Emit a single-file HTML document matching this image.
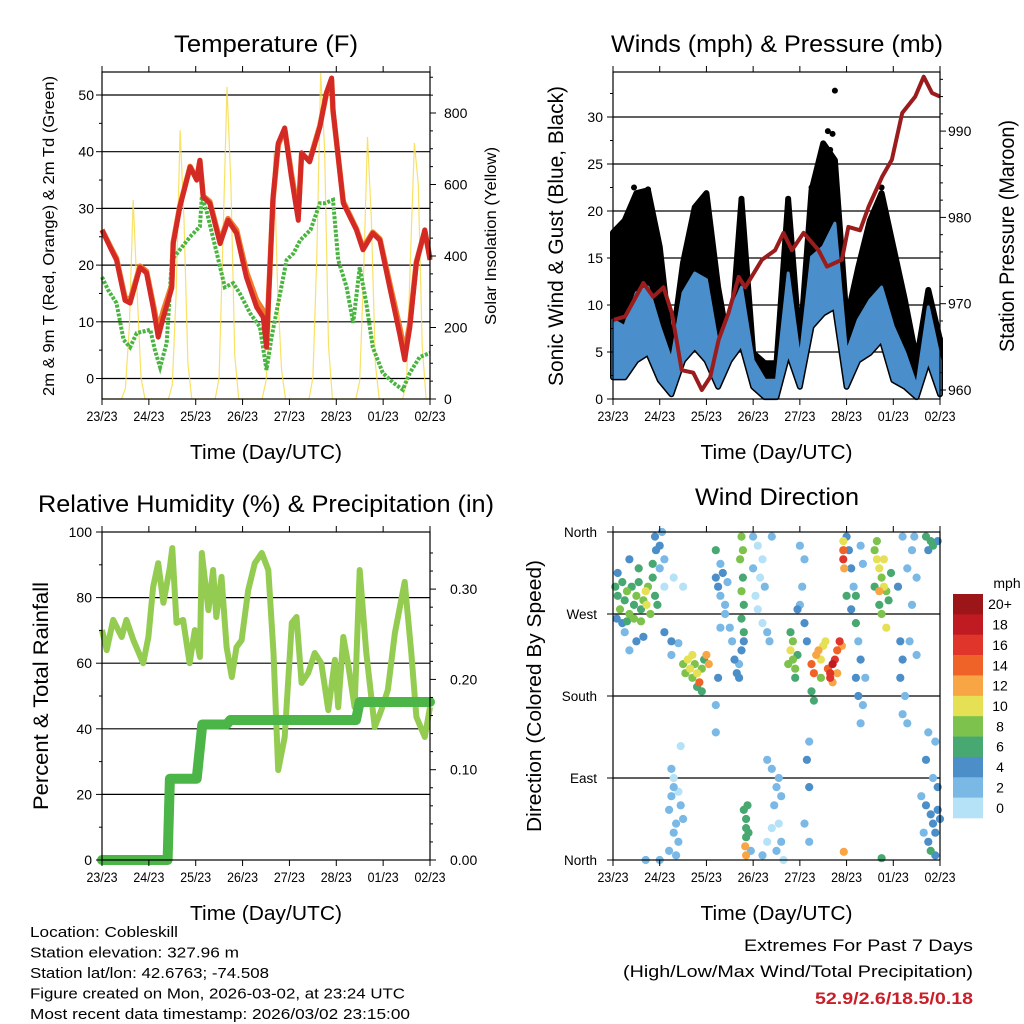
<!DOCTYPE html>
<html><head><meta charset="utf-8"><style>
html,body{margin:0;padding:0;background:#fff;}
svg{display:block;font-family:"Liberation Sans",sans-serif;}
</style></head><body>
<svg id="c" width="1024" height="1024" viewBox="0 0 1024 1024" xmlns="http://www.w3.org/2000/svg">
<rect width="1024" height="1024" fill="#fff"/>
<g id="g"></g>
</svg>
<script>
// ---- Temperature panel data (time in days from 23/23) ----
const tTime=[0,0.17,0.31,0.49,0.6,0.81,0.95,1.09,1.2,1.31,1.49,1.52,1.66,1.88,2.02,2.09,2.16,2.3,2.52,2.69,2.87,3.08,3.3,3.44,3.51,3.65,3.76,3.9,4.04,4.19,4.26,4.43,4.65,4.79,4.9,4.93,5.15,5.43,5.57,5.78,5.93,6.14,6.35,6.46,6.57,6.71,6.89,7.0];
const tRed=[26.2,23.2,20.9,13.8,13.3,19.6,18.6,12.6,7.3,10.8,16,23.8,30.2,37.3,35,38.5,32,30.9,23.8,27.9,25.6,17.9,12.6,10.8,5.5,31.9,41.5,44.2,35.6,27.9,39.8,38.2,44.4,50.4,53,47.4,30.9,26.2,22.7,25.6,24.4,16.1,8,3.3,9.1,20.4,26.2,20.9];
const tOrange=[26.2,23.4,21.2,14.3,13.8,19.8,18.9,13.2,8.6,12,16.5,24,30.4,37.4,35.2,38.4,32.2,31.2,24.2,28.2,26.2,18.9,13.8,12,6.5,31.5,41.2,44,36.2,29,39.6,38.4,44.6,50.2,52.6,47.2,31.2,26.4,23,25.8,24.6,16.8,9.2,4.6,9.8,20.6,26,21.2];
const tdTime=[0,0.13,0.31,0.46,0.6,0.74,1.03,1.13,1.24,1.38,1.49,1.66,1.88,2.09,2.13,2.23,2.45,2.62,2.8,2.94,3.16,3.37,3.51,3.62,3.8,3.94,4.09,4.23,4.45,4.65,4.75,4.93,5.04,5.22,5.36,5.5,5.64,5.78,5.99,6.21,6.42,6.57,6.78,7.0];
const tdVal=[17.9,15.6,13.3,6.8,5.5,8,8.6,5,2,6.3,20.9,22.7,25,26.8,32,29.6,22.1,16.1,16.8,15,11.5,9.1,1.5,7.3,15,20.9,22.1,24.4,26.2,30.9,30.9,31.5,20.9,16.1,9.8,19.6,13.3,5.5,1,-0.7,-2,1,3.8,4.5];
const solarVal=[0,0,0,0,0,0,30,200,557,300,60,0,
 0,0,0,0,0,0,40,300,752,500,100,0,
 0,0,0,0,0,0,60,450,873,600,120,0,
 0,0,0,0,0,0,50,200,688,300,80,0,
 0,0,0,0,0,0,60,400,912,700,150,0,
 0,0,0,0,0,0,50,350,733,500,100,0,
 0,0,0,0,0,0,50,400,716,600,150,0,0];
const dayLabels=["23/23","24/23","25/23","26/23","27/23","28/23","01/23","02/23"];
// ---- Winds panel data ----
const wTime=[0,0.25,0.5,0.75,1,1.25,1.5,1.75,2,2.25,2.5,2.75,3,3.25,3.5,3.75,4,4.25,4.5,4.75,5,5.25,5.5,5.75,6,6.25,6.5,6.75,7];
const gustHi=[17.7,19,21.9,22.2,16.2,5.2,14.5,20.4,21.9,11.9,4.9,21.2,4.9,3.8,3.8,21.2,5.5,22.2,27.2,25.4,8.4,14,19,21.9,16.2,10.5,4.1,11.6,6.3];
const windHi=[8.4,7.7,11.3,11.9,7.7,4.1,11.3,13.4,12.7,5.5,9.1,11.9,4.1,2,2,13.4,4.1,15.1,16.2,18.7,4.9,8.4,10.5,11.9,7.7,4.9,1.3,9.8,4.1];
const windLo=[2.3,2.3,4.1,4.9,2,0.5,4.1,5.5,4.1,1.3,4.1,5.8,1.3,0.2,0.2,4.9,1.3,7.7,9.1,9.8,1.3,4.1,4.9,6.3,2,1.3,0.2,4.1,0.5];
const gustOutTime=[4.75,4.6,4.7,4.65,0.45,0.75,2.75,3.75,4.25,5.75,1.95];
const gustOutVal=[32.8,28.5,28.2,26.5,22.5,22.3,21.3,21.3,22.5,22.5,21.5];
const pTime=[0,0.26,0.65,0.86,1.08,1.26,1.47,1.72,1.9,2.08,2.26,2.47,2.69,2.83,3.19,3.47,3.65,3.83,4.08,4.4,4.58,4.9,5.04,5.29,5.47,5.76,5.97,6.19,6.47,6.65,6.83,7.0];
const pVal=[968.1,968.5,972.4,970.8,971.9,968.9,962.3,962,960,961.5,965.8,968.9,973.1,971.9,975.1,976.2,978.2,976.2,978.2,976.2,974.3,975.1,978.9,978.5,981.2,984.7,986.7,992.1,994,996.3,994.4,994];
// ---- RH / precip data ----
const rhTime=[0,0.1,0.24,0.42,0.52,0.67,0.88,0.99,1.09,1.2,1.31,1.45,1.5,1.59,1.73,1.87,1.98,2.09,2.13,2.27,2.37,2.44,2.55,2.66,2.77,2.87,2.98,3.12,3.26,3.41,3.55,3.66,3.76,3.9,4.05,4.15,4.26,4.4,4.54,4.68,4.83,4.97,5.04,5.15,5.25,5.39,5.5,5.64,5.82,5.96,6.1,6.25,6.46,6.6,6.71,6.89,7.0];
const rhVal=[70.1,64,73.2,68,73.2,67,60,68,83.2,90.5,78.4,89.3,95.1,72.3,73.2,60,70.1,61.9,93.6,76.2,88.4,74.1,86.3,64.9,55.8,64.9,67,82.3,90.5,93.6,88.4,63.1,27.4,37.5,72.3,74.1,54,57,63.1,60,45.7,61,46.6,68,60,46.6,88.4,63.1,40.5,45.7,51.8,69.2,84.8,63.1,43.6,37.5,46.6];
const prTime=[0,1.4,1.45,2.02,2.14,2.66,2.74,5.42,5.5,7.0];
const prVal=[0,0,0.09,0.09,0.15,0.15,0.155,0.155,0.175,0.175];
// ---- Wind direction data ----
const dirTime=[0.05,0.1,0.15,0.2,0.25,0.3,0.35,0.4,0.45,0.5,0.55,0.6,0.65,0.7,0.72,0.75,0.8,0.85,0.9,0.95,0.08,0.2,0.3,0.45,0.6,0.85,0.92,0.1,0.35,0.55,0.25,0.5,0.35,0.65,
0.9,1.0,1.05,1.1,1.0,1.3,1.5,1.1,
1.5,1.55,1.6,1.65,1.7,1.75,1.8,1.85,1.9,1.95,2.0,2.05,1.7,1.8,1.9,
1.2,1.25,1.3,1.35,1.4,1.45,1.3,1.2,1.35,1.4,1.5,1.25,1.3,1.45,1.25,1.1,1.25,1.4,
2.2,2.25,2.3,2.35,2.4,2.3,2.2,2.45,2.4,2.5,2.55,2.6,2.65,2.3,2.25,2.2,2.2,
2.75,2.78,2.72,2.78,2.75,2.8,2.75,2.8,2.8,2.75,2.7,2.7,
2.85,2.85,2.85,2.83,2.85,2.9,2.8,2.95,2.88,
3.0,3.1,3.2,3.15,3.05,3.1,3.2,3.3,3.4,3.0,3.25,3.35,
3.3,3.4,3.5,3.45,3.55,3.6,3.4,3.3,3.5,3.6,3.55,3.2,3.65,
3.8,3.85,3.8,3.85,3.9,3.95,3.9,3.75,
4.0,4.1,4.05,4.0,4.1,4.15,3.95,4.2,4.15,4.2,4.1,4.2,
4.25,4.3,4.35,4.4,4.45,4.5,4.55,4.45,4.25,4.3,4.6,4.65,4.7,4.75,4.8,4.85,4.8,4.7,4.65,4.9,
4.93,4.93,4.95,4.93,
5.0,5.05,5.1,5.15,5.2,5.0,5.1,5.2,5.3,5.35,5.25,5.3,5.2,5.25,5.35,5.3,5.4,
5.6,5.65,5.7,5.75,5.8,5.85,5.6,5.7,5.75,5.9,5.8,5.65,5.95,5.7,5.85,
6.15,6.2,6.15,6.25,6.2,6.1,6.3,6.4,6.45,6.5,6.4,6.35,6.5,6.2,6.3,
6.7,6.8,6.85,6.95,6.75,
6.6,6.7,6.8,6.85,6.9,6.95,7.0,6.75,6.8,6.9,6.65,6.95,6.85,6.9,6.7,6.75,
4.94,5.75,0.7,1.0];
const dirDeg=[300,290,275,305,285,295,270,300,280,290,305,275,285,295,280,300,270,310,290,280,265,260,262,265,262,325,340,315,330,320,250,240,230,245,
355,345,360,330,320,310,300,300,
215,205,220,210,200,215,205,195,210,220,225,215,225,190,185,
55,70,80,40,20,60,30,10,5,75,45,100,90,125,240,250,225,238,
310,300,290,315,280,325,340,305,270,255,240,220,205,255,200,170,140,
355,340,330,310,295,280,265,250,240,230,215,200,
45,35,25,15,5,30,55,10,60,
355,345,330,310,290,275,260,250,355,320,300,240,
110,100,80,60,40,20,35,20,10,70,90,5,0,
250,240,230,220,210,225,200,215,
345,330,300,280,260,240,275,130,110,80,40,20,
215,205,225,230,220,235,240,200,185,175,210,205,215,220,230,240,205,195,200,235,
340,330,320,350,
355,340,320,300,290,290,275,260,345,325,240,220,200,180,170,150,200,
340,330,320,310,300,295,300,280,270,285,330,350,315,295,255,
240,220,200,180,160,300,320,340,355,310,280,240,225,355,150,
355,350,345,350,340,
70,60,50,40,30,55,45,20,10,5,30,80,90,130,110,140,
9,2,0,0];
const dirSpd=[7,6,8,6,7,9,8,6,7,8,6,7,9,10,10,8,9,7,6,7,5,4,7,8,8,6,5,4,4,6,3,4,2,4,
4,4,3,2,3,1,1,1,
8,9,10,10,8,9,11,14,8,7,12,13,10,7,6,
3,3,2,3,2,3,2,3,2,1,2,2,1,1,4,4,3,3,
4,4,3,4,2,3,6,2,3,3,3,4,4,3,4,2,2,
8,9,8,7,8,6,6,6,5,4,3,4,
6,6,7,12,12,6,6,2,6,
3,1,1,1,1,1,1,2,3,3,2,2,
2,2,2,2,1,2,1,1,2,2,2,2,1,
6,9,10,8,9,6,6,8,
2,3,2,3,4,4,4,3,4,4,3,2,
14,14,12,12,10,10,11,8,7,6,14,16,18,16,14,16,12,12,17,13,
14,16,12,10,
4,4,4,3,6,6,4,6,2,3,3,4,4,4,3,2,2,
8,10,10,9,10,8,6,7,8,6,11,8,6,12,10,
4,4,4,2,3,4,2,2,3,3,2,2,2,3,2,
7,6,6,5,4,
2,4,4,5,4,4,4,4,6,4,2,4,3,3,4,3,
12,6,3,3];
const cbLabels=["20+","18","16","14","12","10","8","6","4","2","0"];
const cbColors=["#9b1519","#c01b22","#e0352a","#f06328","#f8a645","#e6e055","#7dc24c","#48a872","#4b8ec8","#7ab8e6","#b5e2f7"];

const NS="http://www.w3.org/2000/svg";
const root=document.getElementById('g');
function mk(tag,attrs,parent){const e=document.createElementNS(NS,tag);for(const k in attrs)e.setAttribute(k,attrs[k]);(parent||root).appendChild(e);return e;}
function txt(s,x,y,size,anchor,parent,extra){const e=mk('text',Object.assign({x:x,y:y,'font-size':size,'text-anchor':anchor||'middle',fill:'#000'},extra||{}),parent);e.textContent=s;return e;}
function path(xs,ys){let d='';for(let i=0;i<xs.length;i++)d+=(i?'L':'M')+xs[i].toFixed(1)+' '+ys[i].toFixed(1);return d;}

function frame(x0,x1,y0,y1,xs,name){
  const g=mk('g',{});
  
  
  mk('rect',{x:x0,y:y0,width:x1-x0,height:y1-y0,fill:'none',stroke:'#000','stroke-width':1.2},g);
  for(let d=0;d<=7;d++){const x=xs(d);
    mk('line',{x1:x,x2:x,y1:y0,y2:y0-6,stroke:'#000'},g);
    mk('line',{x1:x,x2:x,y1:y1,y2:y1+6,stroke:'#000'},g);
    const t=txt(dayLabels[d],x,y1+22,13.5,'middle',g,{textLength:31,lengthAdjust:'spacingAndGlyphs'});
    
    
  }
  const xt=txt('Time (Day/UTC)',(x0+x1)/2,y1+60,20,'middle',g,{textLength:152,lengthAdjust:'spacingAndGlyphs'});
  
  
  return g;
}
function hgrid(x0,x1,y){mk('line',{x1:x0,x2:x1,y1:y,y2:y,stroke:'#000','stroke-width':1.2});}
function title(s,x,y,w){const t=txt(s,x,y,24,'middle',root,{textLength:w,lengthAdjust:'spacingAndGlyphs'});
  
  }
function vtitle(s,x,y,size,w,name){const t=txt(s,0,0,size,'middle',root,{transform:`translate(${x},${y}) rotate(-90)`,textLength:w,lengthAdjust:'spacingAndGlyphs'});
  
  }

// ================= Panel 1: Temperature =================
(function(){
 const X0=102,X1=430,Y0=72,Y1=399;
 const xs=d=>X0+d*(X1-X0)/7, yT=v=>378.5-v*5.67, yS=v=>399-v*0.3575;
 title('Temperature (F)',266,52,184);
 for(let v=0;v<=50;v+=10)hgrid(X0,X1,yT(v));
 const g=mk('g',{});
 
 
 mk('path',{d:path(solarVal.map((v,i)=>xs(i*2/24)),solarVal.map(yS)),fill:'none',stroke:'#f7dc4a','stroke-width':1.2,opacity:0.85},g);
 const td=mk('path',{d:path(tdTime.map(xs),tdVal.map(yT)),fill:'none',stroke:'#49b540','stroke-width':4,'stroke-dasharray':'3 1.5'});
 
 
 const o=mk('path',{d:path(tTime.map(xs),tOrange.map(yT)),fill:'none',stroke:'#f07b2a','stroke-width':5.5,'stroke-linejoin':'round'});
 
 
 const r=mk('path',{d:path(tTime.map(xs),tRed.map(yT)),fill:'none',stroke:'#d42a26','stroke-width':5,'stroke-linejoin':'round'});
 
 
 const f=frame(X0,X1,Y0,Y1,xs,'temperature');
 for(let v=-0;v<=54;v+=5){const y=yT(v);mk('line',{x1:X0,x2:X0-(v%10?3:6),y1:y,y2:y,stroke:'#000'},f);
   if(v%10===0)txt(String(v),X0-8,y+5,14,'end',f);}
 for(let v=0;v<=900;v+=50){const y=yS(v);mk('line',{x1:X1,x2:X1+(v%200?3:6),y1:y,y2:y,stroke:'#000'},f);
   if(v%200===0)txt(String(v),X1+14,y+5,14,'start',f);}
 vtitle('2m & 9m T (Red, Orange) & 2m Td (Green)',54,236,16,320,'y-axis-title-left');
 vtitle('Solar Insolation (Yellow)',496,236,16,178,'y-axis-title-right');
})();

// ================= Panel 2: Winds =================
(function(){
 const X0=613,X1=940,Y0=72,Y1=399;
 const xs=d=>X0+d*(X1-X0)/7, yW=v=>399-v*9.4, yP=p=>390-(p-960)*8.63;
 title('Winds (mph) & Pressure (mb)',777,52,332);
 for(let v=5;v<=30;v+=5)hgrid(X0,X1,yW(v));
 const lo=windLo.map(yW), hiG=gustHi.map(yW), hiW=windHi.map(yW), x=wTime.map(xs);
 let d='M'+x[0]+' '+lo[0];for(let i=0;i<x.length;i++)d+='L'+x[i]+' '+hiG[i];for(let i=x.length-1;i>=0;i--)d+='L'+x[i]+' '+lo[i];
 const gp=mk('path',{d:d+'Z',fill:'#000',stroke:'#000','stroke-width':6,'stroke-linejoin':'round'});
 
 
 let d2='M'+x[0]+' '+lo[0];for(let i=0;i<x.length;i++)d2+='L'+x[i]+' '+hiW[i];for(let i=x.length-1;i>=0;i--)d2+='L'+x[i]+' '+lo[i];
 const wp=mk('path',{d:d2+'Z',fill:'#4a8fcc',stroke:'#4a8fcc','stroke-width':3,'stroke-linejoin':'round'});
 
 
 for(let i=0;i<gustOutTime.length;i++){const c=mk('circle',{cx:xs(gustOutTime[i]),cy:yW(gustOutVal[i]),r:3,fill:'#000'});
   
   }
 const pl=mk('path',{d:path(pTime.map(xs),pVal.map(yP)),fill:'none',stroke:'#9b1c1c','stroke-width':4,'stroke-linejoin':'round'});
 
 
 const f=frame(X0,X1,Y0,Y1,xs,'winds');
 for(let v=0;v<=34;v+=2.5){const y=yW(v);mk('line',{x1:X0,x2:X0-(v%5?3:6),y1:y,y2:y,stroke:'#000'},f);
   if(v%5===0)txt(String(v),X0-10,y+5,14,'end',f);}
 for(let p=960;p<=996;p+=2){const y=yP(p);mk('line',{x1:X1,x2:X1+(p%10?3:6),y1:y,y2:y,stroke:'#000'},f);
   if(p%10===0)txt(String(p),X1+8,y+5,14,'start',f);}
 vtitle('Sonic Wind & Gust (Blue, Black)',563,236,21,300,'y-axis-title-left');
 vtitle('Station Pressure (Maroon)',1014,236,21,232,'y-axis-title-right');
})();

// ================= Panel 3: RH & precip =================
(function(){
 const X0=102,X1=430,Y0=532,Y1=860;
 const xs=d=>X0+d*(X1-X0)/7, yR=v=>860-v*3.28, yPr=v=>860-v*903;
 title('Relative Humidity (%) & Precipitation (in)',266,512,456);
 for(let v=20;v<=80;v+=20)hgrid(X0,X1,yR(v));
 const rl=mk('path',{d:path(rhTime.map(xs),rhVal.map(yR)),fill:'none',stroke:'#94cc52','stroke-width':6,'stroke-linejoin':'round'});
 
 
 const pl=mk('path',{d:path(prTime.map(xs),prVal.map(yPr)),fill:'none',stroke:'#4bb548','stroke-width':10,'stroke-linecap':'round','stroke-linejoin':'round'});
 
 
 const f=frame(X0,X1,Y0,Y1,xs,'humidity');
 for(let v=0;v<=100;v+=10){const y=yR(v);mk('line',{x1:X0,x2:X0-(v%20?3:6),y1:y,y2:y,stroke:'#000'},f);
   if(v%20===0)txt(String(v),X0-10,y+5,14,'end',f);}
 for(let v=0;v<=0.36;v+=0.02){const y=yPr(v);const maj=Math.abs(v*10-Math.round(v*10))<0.01;mk('line',{x1:X1,x2:X1+(maj?6:3),y1:y,y2:y,stroke:'#000'},f);
   if(maj)txt(v.toFixed(2),X1+20,y+5,14,'start',f);}
 vtitle('Percent & Total Rainfall',48,696,21,228,'y-axis-title-left');
})();

// ================= Panel 4: Wind direction =================
(function(){
 const X0=613,X1=940,Y0=532,Y1=860;
 const xs=d=>X0+d*(X1-X0)/7, yD=v=>860-v*328/360;
 title('Wind Direction',777,505,164);
 for(let v=90;v<=270;v+=90)hgrid(X0,X1,yD(v));
 const colorFor=s=>cbColors[10-Math.min(10,Math.floor(s/2))];
 const pg=mk('g',{});
 
 
 const idx=dirSpd.map((s,i)=>i).sort((a,b)=>dirSpd[a]-dirSpd[b]);
 for(const i of idx){const c=mk('circle',{cx:xs(dirTime[i]).toFixed(1),cy:yD(dirDeg[i]).toFixed(1),r:4.1,fill:colorFor(dirSpd[i])},pg);
   
   }
 const f=frame(X0,X1,Y0,Y1,xs,'direction');
 const lbl=["North","East","South","West","North"];
 for(let k=0;k<=4;k++){const y=yD(k*90);mk('line',{x1:X0,x2:X0-6,y1:y,y2:y,stroke:'#000'},f);
   txt(lbl[k],X0-16,y+5,13.5,'end',f);}
 vtitle('Direction (Colored By Speed)',541,696,20,272,'y-axis-title-left');
 const cb=mk('g',{});
 
 
 const bh=224/11;
 for(let i=0;i<11;i++){mk('rect',{x:953,y:594+i*bh,width:30,height:bh+0.3,fill:cbColors[i]},cb);
   txt(cbLabels[i],1000,594+i*bh+bh/2+5,14,'middle',cb);}
 txt('mph',1007,588,14,'middle',cb);
})();

// ================= Footer =================
(function(){
 const lines=[["Location: Cobleskill",148],["Station elevation: 327.96 m",209],["Station lat/lon: 42.6763; -74.508",239],["Figure created on Mon, 2026-03-02, at 23:24 UTC",375],["Most recent data timestamp: 2026/03/02 23:15:00",380]];
 lines.forEach((l,i)=>{const t=txt(l[0],30,937+i*20.5,15,'start',root,{textLength:l[1],lengthAdjust:'spacingAndGlyphs'});
   
   });
 const a=txt('Extremes For Past 7 Days',973,951,17,'end',root,{textLength:229,lengthAdjust:'spacingAndGlyphs'});
 
 
 const b=txt('(High/Low/Max Wind/Total Precipitation)',973,977,17,'end',root,{textLength:350,lengthAdjust:'spacingAndGlyphs'});
 
 
 const c=txt('52.9/2.6/18.5/0.18',973,1004,17,'end',root,{fill:'#c8202a','font-weight':'bold',textLength:158,lengthAdjust:'spacingAndGlyphs'});
 
 
})();
</script>
</body></html>
